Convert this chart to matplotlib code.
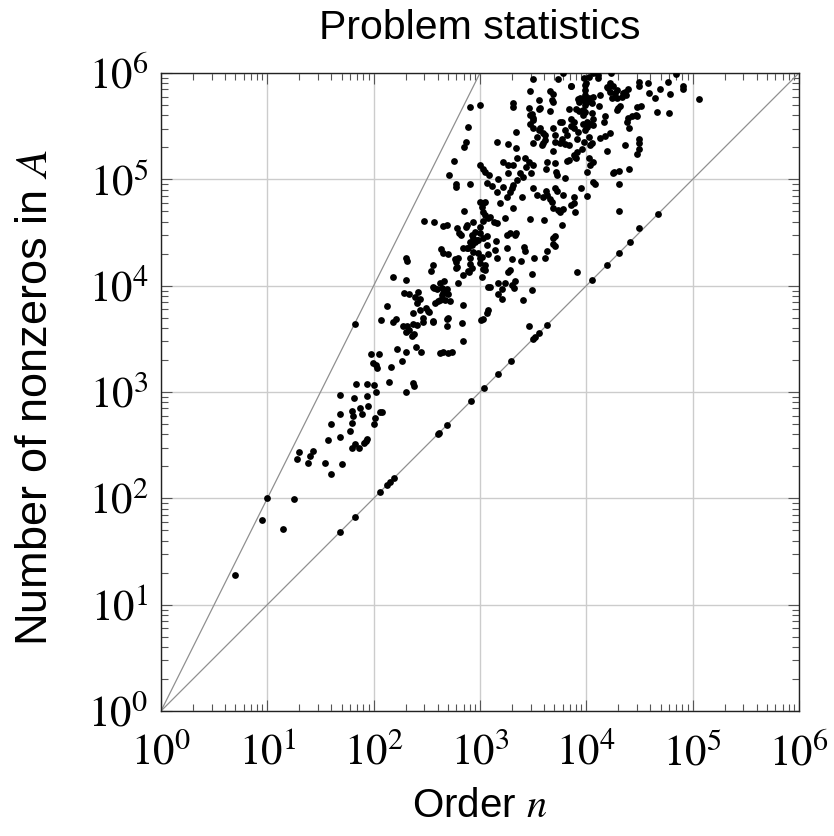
import matplotlib
matplotlib.use("Agg")
import matplotlib.pyplot as plt
from matplotlib.ticker import LogLocator, NullFormatter

# (order n, nonzeros), grouped by region
diag_pts = [(48, 48), (67, 67), (115, 115), (134, 134), (142, 142), (155, 155),
            (400, 400), (415, 415), (490, 490), (830, 830), (1100, 1100),
            (1480, 1480), (1950, 1950), (3160, 3160), (3300, 3300), (3600, 3600),
            (2900, 4200), (4270, 4270), (11200, 11200), (15800, 15800),
            (20400, 20400), (25700, 25700), (31000, 35000), (47500, 47500)]

low_pts = [(5, 19), (9, 63), (10, 100), (14, 52), (18, 99), (19, 235), (20, 275),
           (24, 215), (25, 250), (27, 280), (35, 215), (40, 170), (37, 355),
           (40, 500), (48, 380), (50, 210), (48, 940), (48, 620), (60, 430),
           (63, 660), (63, 510), (64, 600), (66, 870), (63, 300), (67, 325),
           (73, 295), (74, 710), (78, 620), (81, 330), (85, 345), (86, 360),
           (87, 920), (89, 740), (100, 500), (102, 575), (105, 1000), (115, 650),
           (120, 650), (100, 1170), (86, 1200), (68, 1200), (139, 1230),
           (200, 1000), (235, 1220), (240, 1150)]

mid_pts = [(67, 4370), (134, 6500), (117, 4800), (152, 4570), (162, 4900),
           (194, 8500), (215, 8300), (245, 7850), (263, 8700), (275, 7500),
           (257, 6900), (270, 5900), (310, 6200), (330, 5700), (235, 5560),
           (205, 4170), (235, 4370), (257, 4270), (190, 4170), (200, 3670),
           (215, 3800), (230, 3390), (240, 3500), (290, 4570), (290, 5000),
           (360, 4700), (500, 5000), (490, 4170), (680, 4470), (690, 6600),
           (690, 3020), (251, 2630), (280, 2400), (200, 2400), (166, 2540),
           (186, 1960), (145, 1720), (112, 2290), (98, 1870), (108, 1680),
           (105, 1800), (94, 2290), (420, 2340), (450, 2400), (500, 2340),
           (540, 2400), (325, 5800), (380, 6900), (420, 7300), (470, 7300),
           (520, 7100), (360, 4570), (490, 4900), (152, 12100), (200, 11300),
           (200, 18300), (205, 17000), (345, 13800), (360, 15700), (430, 22100),
           (450, 20400), (500, 20000), (600, 16800), (610, 15100), (620, 18300),
           (690, 12600), (775, 13800), (850, 14700), (810, 16000), (620, 10500),
           (360, 9800), (370, 9500), (420, 10700), (460, 11000), (440, 9500),
           (490, 9300), (500, 8300), (440, 8200), (405, 7100), (395, 9300),
           (450, 8500), (300, 40500), (370, 40000), (450, 36500), (490, 37000),
           (610, 35000), (630, 31500), (760, 37000), (860, 40000), (1070, 40500),
           (710, 50000), (585, 17900), (600, 14700), (1070, 4900), (1020, 4800),
           (1170, 5560), (1200, 5900), (1240, 9800), (1480, 10500), (1730, 10700),
           (1620, 9300), (1480, 8300), (1620, 7500), (2140, 11000), (2100, 9500),
           (2000, 10200), (2550, 7300), (3100, 9100), (3100, 12900), (1900, 14100),
           (1830, 13500), (2450, 17000), (2000, 17900), (3240, 18300),
           (2600, 23200), (2650, 21300), (1070, 14400), (1120, 15700),
           (790, 13500), (810, 18300), (690, 22600), (775, 22600), (860, 28000),
           (960, 27000), (860, 20900), (1000, 18300), (1200, 20000), (1450, 18300),
           (1380, 21700), (1170, 24000), (1800, 22600), (1800, 30000),
           (2140, 30000), (1000, 16400), (1120, 14100), (1050, 12100), (1200, 9800),
           (1050, 18600), (960, 20400), (760, 22600), (850, 24000), (890, 25700),
           (660, 30000), (740, 36000), (890, 32000), (1000, 36000),
           (4900, 28000), (5100, 29000), (4270, 21300), (4100, 18300),
           (5100, 23600), (8100, 13500), (4900, 24500), (20400, 50000)]

high_pts = [(3160, 870000), (2950, 680000), (3600, 560000), (810, 480000),
            (1000, 500000), (2040, 525000), (2040, 480000), (2900, 470000),
            (3550, 460000), (2950, 400000), (3160, 380000), (775, 310000),
            (2200, 280000), (2950, 330000), (3160, 305000), (3550, 290000),
            (3450, 250000), (4100, 263000), (740, 224000), (710, 200000),
            (1450, 224000), (1830, 215000), (2200, 197000), (3160, 219000),
            (3800, 210000), (575, 148000), (510, 110000), (600, 91000),
            (600, 85000), (810, 91000), (1000, 136000), (1070, 126000),
            (1120, 117000), (1220, 110000), (1650, 146000), (1830, 136000),
            (2040, 136000), (2240, 159000), (2650, 159000), (2900, 146000),
            (3160, 136000), (2700, 132000), (1830, 115000), (2400, 115000),
            (2550, 106000), (2240, 99000), (2040, 89000), (1480, 100000),
            (1170, 92000), (1300, 87000), (1450, 76000), (1650, 85000),
            (1900, 76000), (2000, 83000), (3160, 83000), (3450, 71500),
            (3900, 68500), (4200, 78000), (3000, 115000), (2500, 67500),
            (2040, 54000), (1800, 67500), (1550, 60000), (1000, 61500),
            (1120, 61500), (1070, 49500), (1240, 44500), (1350, 40000),
            (1450, 39000), (1730, 43500), (2950, 42500), (4000, 41500),
            (1900, 31500), (2200, 31000), (1420, 26500), (850, 30000),
            (935, 27000), (810, 25700), (1000, 31500), (1070, 28000),
            (1170, 29000), (1070, 60000), (1050, 55000), (1120, 46000),
            (1200, 43500)]

top_pts = [(6000, 1000000), (11600, 1000000), (13000, 960000), (17000, 1000000),
           (70000, 980000), (5400, 870000), (7200, 760000), (9500, 900000),
           (10700, 915000), (9800, 775000), (9800, 690000), (9800, 620000),
           (9300, 560000), (9800, 500000), (9300, 450000), (8300, 575000),
           (10500, 585000), (11600, 600000), (13500, 620000), (11300, 525000),
           (13200, 490000), (16000, 725000), (16700, 665000), (17900, 760000),
           (19500, 690000), (19500, 585000), (21800, 600000), (23700, 620000),
           (24500, 710000), (22200, 650000), (31000, 830000), (31000, 760000),
           (38000, 800000), (39000, 650000), (44500, 585000), (49000, 710000),
           (59000, 830000), (61500, 630000), (81000, 760000), (81000, 710000),
           (115000, 575000), (46500, 430000), (60000, 420000), (4600, 680000),
           (4900, 630000), (4800, 560000), (4600, 440000), (3700, 470000),
           (6900, 460000), (8000, 460000), (9800, 430000), (5900, 347000),
           (7200, 370000), (7600, 347000), (11300, 420000), (11600, 370000),
           (11600, 325000), (10900, 330000), (10200, 310000), (9800, 290000),
           (9300, 330000), (15000, 390000), (14800, 347000), (3700, 305000),
           (3900, 275000), (4900, 305000), (6300, 290000), (7600, 305000),
           (8300, 280000), (8100, 240000), (4100, 234000), (3900, 219000),
           (5100, 263000), (5100, 224000), (5600, 219000), (6300, 215000),
           (6800, 210000), (5900, 240000), (6600, 263000), (13500, 245000),
           (15000, 257000), (16700, 270000), (10700, 250000), (10900, 210000),
           (11300, 219000), (9100, 193000), (8100, 182000), (7600, 170000),
           (8000, 159000), (6800, 151000), (4900, 186000), (10700, 159000),
           (11600, 146000), (10900, 136000), (10200, 117000), (4270, 146000),
           (5100, 143000), (4200, 126000), (5200, 117000), (5300, 110000),
           (6300, 103000), (11600, 94000), (12000, 91000), (8900, 83000),
           (10200, 70000), (4270, 71500), (4600, 65500), (4800, 61500),
           (4900, 54000), (5400, 51500), (5600, 49500), (6000, 52500),
           (6000, 71500), (5100, 83000), (5300, 78000), (7600, 68500),
           (7600, 60000), (7800, 49500), (7100, 57500), (5900, 37000),
           (20400, 91000), (25000, 126000), (18300, 117000), (20400, 120000),
           (15700, 186000), (23200, 210000), (31000, 240000), (31600, 219000),
           (31000, 193000), (30000, 174000), (25000, 305000), (24500, 380000),
           (27000, 390000), (30000, 390000), (30000, 480000), (32700, 490000),
           (20000, 470000), (20900, 490000), (29000, 400000), (24000, 347000),
           (13000, 900000), (15700, 740000), (16700, 810000), (17400, 585000),
           (18600, 650000), (23200, 665000), (19500, 450000), (10000, 810000),
           (9500, 575000), (10200, 535000), (9300, 400000), (10200, 347000),
           (9500, 224000), (8700, 585000), (8500, 535000), (8500, 440000),
           (7100, 760000), (3100, 410000), (3160, 363000), (4900, 535000),
           (5600, 347000), (7100, 316000), (6600, 148000), (7800, 162000),
           (17900, 115000)]

decades = list(range(7))
axis_min, axis_max = 1, 10**6

plt.rcParams['mathtext.fontset'] = 'stix'
plt.rcParams['font.family'] = ['Liberation Sans', 'DejaVu Sans']

fig = plt.figure(figsize=(8.34, 8.36), dpi=100)
ax = fig.add_axes([161/834, 1-711/836, 638/834, 638/836])
ax.set_xscale('log')
ax.set_yscale('log')

# reference lines nnz = n and nnz = n^2
ref = [axis_min, axis_max]
ax.plot(ref, ref, color='#909090', lw=0.9, zorder=2)
ax.plot([axis_min, axis_max**0.5], [axis_min, axis_max], color='#909090', lw=0.9, zorder=2)

for grp in [diag_pts, low_pts, mid_pts, high_pts, top_pts]:
    xs = [p[0] for p in grp]
    ys = [p[1] for p in grp]
    ax.scatter(xs, ys, s=24, color='black', linewidths=0, zorder=3)

ax.set_xlim(axis_min, axis_max)
ax.set_ylim(axis_min, axis_max)
ax.grid(True, which='major', color='#cccccc', lw=1.0, zorder=0)
ax.set_axisbelow(True)

ticks = [10**k for k in decades]
labels = [r'$10^{%d}$' % k for k in decades]
ax.set_xticks(ticks)
ax.set_yticks(ticks)
ax.set_xticklabels(labels, fontsize=31)
ax.set_yticklabels(labels, fontsize=31)
for a in (ax.xaxis, ax.yaxis):
    a.set_minor_locator(LogLocator(base=10, subs=range(2, 10), numticks=20))
    a.set_minor_formatter(NullFormatter())
ax.tick_params(which='both', direction='in', top=True, right=True, color='#555555', width=0.8)
ax.tick_params(which='major', length=8)
ax.tick_params(which='minor', length=5)
ax.tick_params(axis='x', which='major', pad=16)
ax.tick_params(axis='y', which='major', pad=9)
for lab in ax.get_yticklabels():
    lab.set_y(lab.get_position()[1])
for sp in ax.spines.values():
    sp.set_linewidth(1.0)
    sp.set_color('#222222')

fig.text(480/834, 1-28/836, 'Problem statistics', ha='center', va='center', fontsize=29.5)
fig.text(480/834, 1-806/836, 'Order $n$', ha='center', va='center', fontsize=29)
fig.text(36/834, 1-398/836, 'Number of nonzeros in $A$', ha='center', va='center',
         rotation=90, fontsize=32.5)

fig.savefig('out.png', dpi=100)
